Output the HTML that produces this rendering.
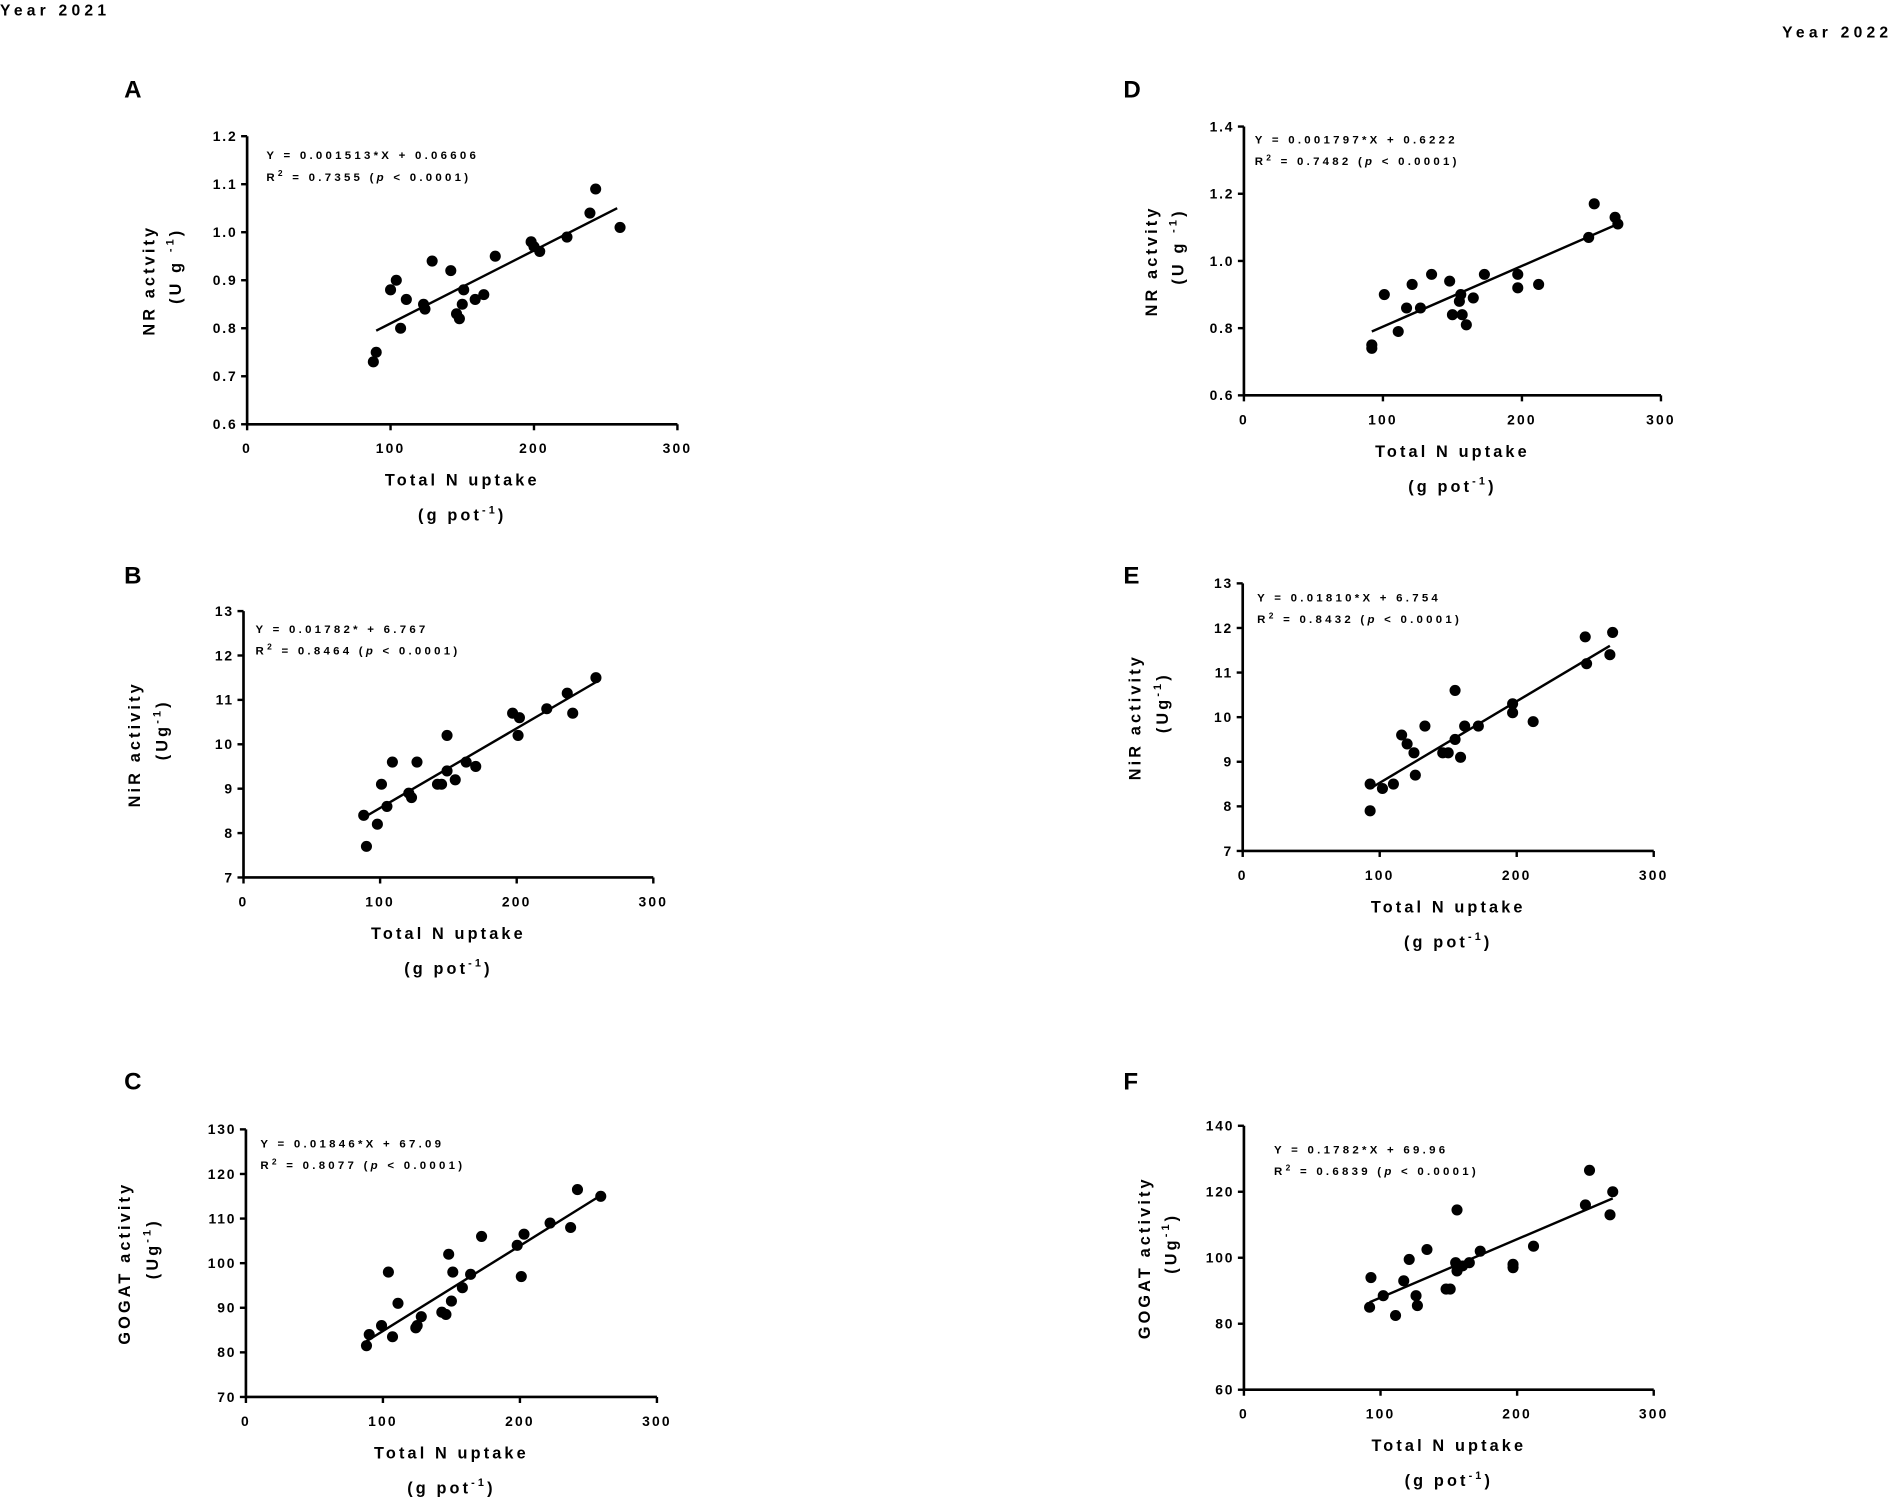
<!DOCTYPE html>
<html><head><meta charset="utf-8">
<style>
html,body{margin:0;padding:0;background:#fff;}
svg{display:block;font-family:"Liberation Sans",Arial,sans-serif;font-weight:bold;}
</style></head>
<body>
<svg id="fig" width="1890" height="1497" viewBox="0 0 1568 1242" xmlns="http://www.w3.org/2000/svg">
<text x="0" y="13" font-size="13" letter-spacing="3.5">Year 2021</text>
<text x="1570" y="31" font-size="13" letter-spacing="3.5" text-anchor="end">Year 2022</text>
</svg>
<script>
// Panel A
const aX=[88,90,100,104,107,111,123,124,129,142,146,148,150,151,159,165,173,198,200,204,223,239,243,260];
const aY=[0.73,0.75,0.88,0.90,0.80,0.86,0.85,0.84,0.94,0.92,0.83,0.82,0.85,0.88,0.86,0.87,0.95,0.98,0.97,0.96,0.99,1.04,1.09,1.01];
const aFitX=[90,258]; const aFitY=[0.795,1.05];
const aTicks=[0.6,0.7,0.8,0.9,1.0,1.1,1.2];
// Panel B
const bX=[88,90,98,101,105,109,121,123,127,142,145,149,149,155,163,170,197,201,202,222,237,241,258];
const bY=[8.4,7.7,8.2,9.1,8.6,9.6,8.9,8.8,9.6,9.1,9.1,9.4,10.2,9.2,9.6,9.5,10.7,10.2,10.6,10.8,11.15,10.7,11.5];
const bFitX=[88,258]; const bFitY=[8.35,11.4];
const bTicks=[7,8,9,10,11,12,13];
// Panel C
const cX=[88,90,99,104,107,111,124,125,128,143,146,148,150,151,158,164,172,198,201,203,222,237,242,259];
const cY=[81.5,84,86,98,83.5,91,85.5,86,88,89,88.5,102,91.5,98,94.5,97.5,106,104,97,106.5,109,108,116.5,115];
const cFitX=[88,258]; const cFitY=[82.5,115];
const cTicks=[70,80,90,100,110,120,130];
// Panel D
const dX=[92,92,101,111,117,121,127,135,148,150,155,156,157,160,165,173,197,197,212,248,252,267,269];
const dY=[0.74,0.75,0.90,0.79,0.86,0.93,0.86,0.96,0.94,0.84,0.88,0.90,0.84,0.81,0.89,0.96,0.96,0.92,0.93,1.07,1.17,1.13,1.11];
const dFitX=[92,269]; const dFitY=[0.79,1.11];
const dTicks=[0.6,0.8,1.0,1.2,1.4];
// Panel E
const eX=[93,93,102,110,116,120,125,126,133,146,150,155,155,159,162,172,197,197,212,250,251,268,270];
const eY=[8.5,7.9,8.4,8.5,9.6,9.4,9.2,8.7,9.8,9.2,9.2,9.5,10.6,9.1,9.8,9.8,10.3,10.1,9.9,11.8,11.2,11.4,11.9];
const eFitX=[93,268]; const eFitY=[8.4,11.6];
const eTicks=[7,8,9,10,11,12,13];
// Panel F
const fX=[92,93,102,111,117,121,126,127,134,148,151,155,156,156,160,165,173,197,197,212,250,253,268,270];
const fY=[85,94,88.5,82.5,93,99.5,88.5,85.5,102.5,90.5,90.5,98.5,114.5,96,97.5,98.5,102,98,97,103.5,116,126.5,113,120];
const fFitX=[92,270]; const fFitY=[86.5,118];
const fTicks=[60,80,100,120,140];
const xTicks=[0,100,200,300];

const NS='http://www.w3.org/2000/svg';
const svg=document.getElementById('fig');
function mk(tag,attrs,parent,txt){const e=document.createElementNS(NS,tag);for(const k in attrs)e.setAttribute(k,attrs[k]);if(txt!==undefined)e.textContent=txt;(parent||svg).appendChild(e);return e;}

function panel(p){
  const g=mk('g',{},svg);
  
  
  const ymin=p.ticks[0], ymax=p.ticks[p.ticks.length-1];
  const sx=v=>p.x0+(v/300)*(p.x1-p.x0);
  const sy=v=>p.yb-(v-ymin)/(ymax-ymin)*(p.yb-p.yt);
  const lbl=mk('text',{x:p.lx,y:p.ly,'font-size':20},g,p.id);
  
  
  const ya=mk('line',{x1:p.x0,y1:p.yt,x2:p.x0,y2:p.yb,stroke:'#000','stroke-width':2.2},g);
  
  
  const xa=mk('line',{x1:p.x0,y1:p.yb,x2:p.x1,y2:p.yb,stroke:'#000','stroke-width':2.2},g);
  
  
  p.ticks.forEach(t=>{
    mk('line',{x1:p.x0-5,y1:sy(t),x2:p.x0,y2:sy(t),stroke:'#000','stroke-width':2},g);
    const tl=mk('text',{x:p.x0-8,y:sy(t)+4,'font-size':11.5,'text-anchor':'end','letter-spacing':1.5},g,p.fmt(t));
    
    
  });
  xTicks.forEach(t=>{
    mk('line',{x1:sx(t),y1:p.yb,x2:sx(t),y2:p.yb+5,stroke:'#000','stroke-width':2},g);
    const tl=mk('text',{x:sx(t),y:p.yb+24,'font-size':11.5,'text-anchor':'middle','letter-spacing':1.8},g,String(t));
    
    
  });
  const cx=(p.x0+p.x1)/2;
  const xt=mk('text',{x:cx,y:p.yb+51,'font-size':13.5,'text-anchor':'middle','letter-spacing':2.6},g,'Total N uptake');
  
  
  const xu=mk('text',{x:cx,y:p.yb+80,'font-size':13.5,'text-anchor':'middle','letter-spacing':2.6},g);
  
  
  xu.innerHTML='(g pot<tspan dy="-6" font-size="9">-1</tspan><tspan dy="6">)</tspan>';
  const cy=(p.yt+p.yb)/2;
  const yt=mk('text',{x:0,y:0,'font-size':13.5,'text-anchor':'middle','letter-spacing':2.6,transform:`translate(${p.x0-p.tx1},${cy}) rotate(-90)`},g,p.ytitle);
  
  
  const yu=mk('text',{x:0,y:0,'font-size':13.5,'text-anchor':'middle','letter-spacing':2.6,transform:`translate(${p.x0-p.tx2},${cy-12}) rotate(-90)`},g);
  
  
  yu.innerHTML=p.uspace?'(U g <tspan dy="-6" font-size="9">-1</tspan><tspan dy="6">)</tspan>':'(Ug<tspan dy="-6" font-size="9">-1</tspan><tspan dy="6">)</tspan>';
  const e1=mk('text',{x:p.ex,y:p.ey,'font-size':9.5,'letter-spacing':2.7},g,p.eq);
  
  
  const e2=mk('text',{x:p.ex,y:p.ey+18,'font-size':9.5,'letter-spacing':2.7},g);
  
  
  e2.innerHTML='R<tspan dy="-4" font-size="7">2</tspan><tspan dy="4"> = '+p.r2+' (</tspan><tspan font-style="italic">p</tspan> &lt; 0.0001)';
  const fl=mk('line',{x1:sx(p.fx[0]),y1:sy(p.fy[0]),x2:sx(p.fx[1]),y2:sy(p.fy[1]),stroke:'#000','stroke-width':2},g);
  
  
  p.xs.forEach((v,i)=>{
    const c=mk('circle',{cx:sx(v),cy:sy(p.ys[i]),r:4.6,fill:'#000'},g);
    
    
  });
}
const f1=t=>t.toFixed(1), f0=t=>String(t);
panel({id:'A',lx:103,ly:81,x0:205,x1:562,yt:113,yb:352,ticks:aTicks,fmt:f1,xs:aX,ys:aY,fx:aFitX,fy:aFitY,ytitle:'NR actvity',tx1:77,tx2:55,uspace:true,ex:221,ey:132,eq:'Y = 0.001513*X + 0.06606',r2:'0.7355'});
panel({id:'B',lx:103,ly:484,x0:202,x1:542,yt:507,yb:728,ticks:bTicks,fmt:f0,xs:bX,ys:bY,fx:bFitX,fy:bFitY,ytitle:'NiR activity',tx1:86,tx2:63,uspace:false,ex:212,ey:525,eq:'Y = 0.01782* + 6.767',r2:'0.8464'});
panel({id:'C',lx:103,ly:904,x0:204,x1:545,yt:937,yb:1159,ticks:cTicks,fmt:f0,xs:cX,ys:cY,fx:cFitX,fy:cFitY,ytitle:'GOGAT activity',tx1:96,tx2:73,uspace:false,ex:216,ey:952,eq:'Y = 0.01846*X + 67.09',r2:'0.8077'});
panel({id:'D',lx:932,ly:81,x0:1032,x1:1378,yt:105,yb:328,ticks:dTicks,fmt:f1,xs:dX,ys:dY,fx:dFitX,fy:dFitY,ytitle:'NR actvity',tx1:72,tx2:50,uspace:true,ex:1041,ey:119,eq:'Y = 0.001797*X + 0.6222',r2:'0.7482'});
panel({id:'E',lx:932,ly:484,x0:1031,x1:1372,yt:484,yb:706,ticks:eTicks,fmt:f0,xs:eX,ys:eY,fx:eFitX,fy:eFitY,ytitle:'NiR activity',tx1:85,tx2:62,uspace:false,ex:1043,ey:499,eq:'Y = 0.01810*X + 6.754',r2:'0.8432'});
panel({id:'F',lx:932,ly:904,x0:1032,x1:1372,yt:934,yb:1153,ticks:fTicks,fmt:f0,xs:fX,ys:fY,fx:fFitX,fy:fFitY,ytitle:'GOGAT activity',tx1:78,tx2:56,uspace:false,ex:1057,ey:957,eq:'Y = 0.1782*X + 69.96',r2:'0.6839'});
</script>
</body></html>
